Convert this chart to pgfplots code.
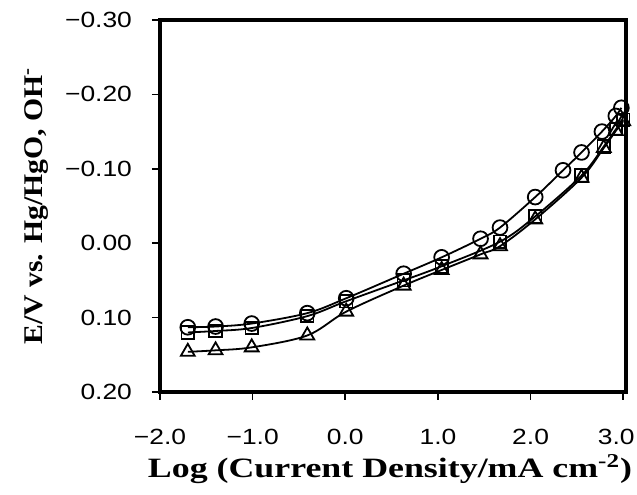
\documentclass[border=0pt]{standalone}
\usepackage{pgfplots}
\pgfplotsset{compat=1.18}
\usepackage{fontspec}
\setmainfont{Liberation Serif}
\newfontfamily\ticksfont[FakeStretch=1.2]{Liberation Sans}
\newfontfamily\xlabfont[FakeStretch=1.28]{Liberation Serif}
\newfontfamily\ylabfont[FakeStretch=1.1]{Liberation Serif}

\pgfplotstableread{
x y
-1.70 0.113
-1.40 0.112
-1.01 0.108
-0.41 0.094
0.01 0.074
0.63 0.041
1.04 0.019
1.46 -0.006
1.67 -0.021
2.05 -0.062
2.35 -0.098
2.55 -0.122
2.77 -0.150
2.92 -0.171
2.98 -0.182
}\circdata

\pgfplotstableread{
x y
-1.70 0.120
-1.40 0.118
-1.01 0.114
-0.41 0.098
0.01 0.078
0.63 0.050
1.04 0.031
1.67 -0.002
2.05 -0.036
2.55 -0.091
2.79 -0.130
2.92 -0.153
3.00 -0.166
}\sqdata

\pgfplotstableread{
x y
-1.70 0.146
-1.40 0.144
-1.01 0.140
-0.41 0.124
0.01 0.092
0.63 0.057
1.04 0.036
1.46 0.015
1.67 0.004
2.05 -0.032
2.55 -0.088
2.79 -0.128
2.92 -0.151
3.00 -0.164
}\tridata

\begin{document}
\begin{tikzpicture}
\begin{axis}[
    name=ax,
    scale only axis,
    width=233pt,
    height=186pt,
    xmin=-2, xmax=3.03,
    ymin=-0.30, ymax=0.20,
    y dir=reverse,
    axis line style={line width=2.4pt},
    tick align=outside,
    tick pos=left,
    major tick length=4pt,
    tick style={line width=0.8pt, black},
    xtick={-2,-1,0,1,2},
    xticklabels={−2.0,−1.0,0.0,1.0,2.0},
    extra x ticks={3},
    extra x tick labels={3.0},
    extra x tick style={xticklabel style={xshift=-3.5pt}},
    ytick={-0.3,-0.2,-0.1,0,0.1,0.2},
    yticklabels={−0.30,−0.20,−0.10,0.00,0.10,0.20},
    ticklabel style={font=\ticksfont\fontsize{11}{13}\selectfont},
    xticklabel style={yshift=-11pt},
    yticklabel style={xshift=-6.5pt},
    xlabel={Log (Current Density/mA cm\textsuperscript{-2})},
    ylabel={E/V vs. Hg/HgO, OH\textsuperscript{-}},
    xlabel style={font=\xlabfont\bfseries\fontsize{14}{16}\selectfont,
        at={(axis description cs:0.5,0)}, anchor=base, yshift=-43pt, xshift=-1.5pt},
    ylabel style={font=\ylabfont\bfseries\fontsize{13.5}{15}\selectfont,
        at={(axis description cs:0,0.5)}, anchor=center, yshift=61.5pt},
    clip=false,
]
\addplot[black, line width=0.9pt, smooth, tension=0.55, mark=o,
    mark size=3.7pt, mark options={line width=0.9pt}] table {\circdata};
\addplot[black, line width=0.9pt, smooth, tension=0.55, mark=square,
    mark size=3.1pt, mark options={line width=0.9pt}] table {\sqdata};
\addplot[black, line width=0.9pt, smooth, tension=0.55, mark=triangle,
    mark size=4pt, mark options={line width=0.9pt}] table {\tridata};
\end{axis}
\pgfresetboundingbox
\useasboundingbox ([xshift=-80pt,yshift=-51.5pt]ax.south west) rectangle ([xshift=5.5pt,yshift=10pt]ax.north east);
\end{tikzpicture}
\end{document}
